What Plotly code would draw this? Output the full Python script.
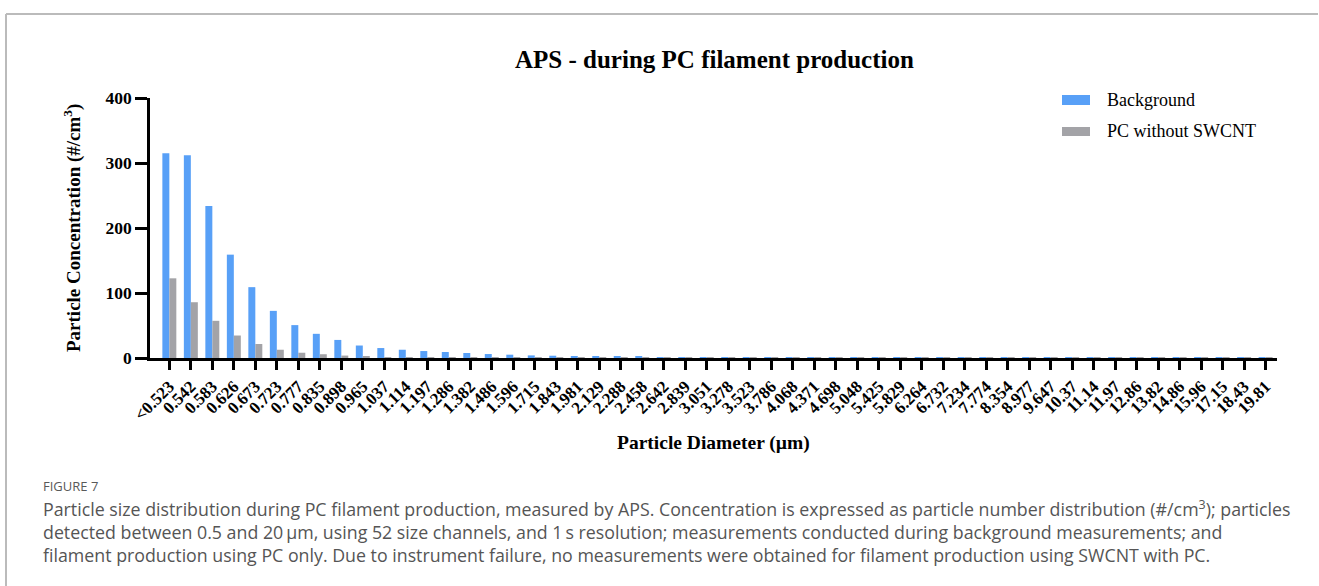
import plotly.graph_objects as go

W, H = 1319, 586

diameters = ["<0.523", "0.542", "0.583", "0.626", "0.673", "0.723", "0.777", "0.835", "0.898", "0.965",
             "1.037", "1.114", "1.197", "1.286", "1.382", "1.486", "1.596", "1.715", "1.843", "1.981",
             "2.129", "2.288", "2.458", "2.642", "2.839", "3.051", "3.278", "3.523", "3.786", "4.068",
             "4.371", "4.698", "5.048", "5.425", "5.829", "6.264", "6.732", "7.234", "7.774", "8.354",
             "8.977", "9.647", "10.37", "11.14", "11.97", "12.86", "13.82", "14.86", "15.96", "17.15",
             "18.43", "19.81"]

background = [315, 312, 234, 159, 109, 72.5, 50.6, 37.2, 27.8, 19.2,
              15.3, 12.7, 10.7, 9.2, 7.7, 6.1, 5.1, 4.0, 3.5, 3.0,
              2.5, 2.0, 1.8, 1.2, 0.9, 0.7, 0.5, 0.4, 0.3, 0.25,
              0.2, 0.15, 0.12, 0.1, 0.1, 0.08, 0.08, 0.06, 0.06, 0.05,
              0.05, 0.05, 0.04, 0.04, 0.04, 0.03, 0.03, 0.03, 0.02, 0.02,
              0.02, 0.02]

pc_without_swcnt = [122.6, 85.8, 57.2, 34.6, 21.5, 12.7, 8.1, 5.8, 3.7, 3.0,
                    1.0, 0.6, 0.4, 0.3, 0.2, 0.15, 0.1, 0.08, 0.06, 0.05,
                    0.04, 0.03, 0.03, 0.02, 0.02, 0.02, 0.01, 0.01, 0.01, 0.01,
                    0.01, 0.01, 0.01, 0.01, 0.01, 0.01, 0.01, 0.01, 0.01, 0.01,
                    0.01, 0.01, 0.01, 0.01, 0.01, 0.01, 0.01, 0.01, 0.01, 0.01,
                    0.01, 0.01]

y_ticks = [0, 100, 200, 300, 400]

BLUE = "#58a0f7"
GRAY = "#a3a3a7"
SERIF = "Liberation Serif"


def px(x):
    return x / W


def py(y):
    return 1 - y / H


fig = go.Figure()
fig.add_trace(go.Bar(x=diameters, y=background, name="Background",
                     marker=dict(color=BLUE, line=dict(width=0))))
fig.add_trace(go.Bar(x=diameters, y=pc_without_swcnt, name="PC without SWCNT",
                     marker=dict(color=GRAY, line=dict(width=0))))

x0, x1 = 150, 1277
y0, y1 = 358, 98

fig.update_layout(
    width=W, height=H,
    margin=dict(l=0, r=0, t=0, b=0),
    paper_bgcolor="white", plot_bgcolor="white",
    barmode="group", bargap=0.35, bargroupgap=0,
    showlegend=False,
    xaxis=dict(type="category", categoryorder="array", categoryarray=diameters,
               range=[-0.9, len(diameters) - 0.47],
               domain=[px(x0), px(x1)], anchor="y",
               showline=True, linecolor="black", linewidth=2.5,
               ticks="outside", ticklen=9, tickwidth=2.5, tickcolor="black",
               tickangle=-45, automargin=False,
               tickfont=dict(family=SERIF, size=17, color="black", weight="bold"),
               showgrid=False, zeroline=False),
    yaxis=dict(range=[0, 400], domain=[py(y0), py(y1)], anchor="x",
               tickvals=y_ticks, ticktext=[str(v) for v in y_ticks],
               showline=True, linecolor="black", linewidth=2.5,
               ticks="outside", ticklen=12, tickwidth=2.5, tickcolor="black",
               automargin=False,
               tickfont=dict(family=SERIF, size=17.5, color="black", weight="bold"),
               showgrid=False, zeroline=False),
)

shapes = [
    dict(type="line", xref="paper", yref="paper", x0=px(6), x1=px(1318), y0=py(14), y1=py(14),
         line=dict(color="#bbbbbb", width=2)),
    dict(type="line", xref="paper", yref="paper", x0=px(6), x1=px(6), y0=py(14), y1=py(586),
         line=dict(color="#bbbbbb", width=2)),
    dict(type="rect", xref="paper", yref="paper", x0=px(1062), x1=px(1090), y0=py(105), y1=py(95),
         fillcolor=BLUE, line=dict(width=0)),
    dict(type="rect", xref="paper", yref="paper", x0=px(1062), x1=px(1090), y0=py(136), y1=py(127),
         fillcolor=GRAY, line=dict(width=0)),
]
fig.update_layout(shapes=shapes)

ann = []
ann.append(dict(text="APS - during PC filament production", x=px(714), y=py(59),
                xanchor="center", yanchor="middle",
                font=dict(family=SERIF, size=25, color="black", weight="bold")))
ann.append(dict(text="Particle Diameter (µm)", x=px(713), y=py(443),
                xanchor="center", yanchor="middle",
                font=dict(family=SERIF, size=19.5, color="black", weight="bold")))
ann.append(dict(text="Particle Concentration (#/cm<sup>3</sup>)", x=px(72), y=py(228),
                xanchor="center", yanchor="middle", textangle=-90,
                font=dict(family=SERIF, size=19, color="black", weight="bold")))
ann.append(dict(text="Background", x=px(1105), y=py(100), xanchor="left", yanchor="middle",
                font=dict(family=SERIF, size=18, color="black")))
ann.append(dict(text="PC without SWCNT", x=px(1105), y=py(131), xanchor="left", yanchor="middle",
                font=dict(family=SERIF, size=18, color="black")))

CAP_FONT = "Open Sans"
ann.append(dict(text="FIGURE 7", x=px(41), y=py(486), xanchor="left", yanchor="middle",
                font=dict(family=CAP_FONT, size=13, color="#595959")))
caption_lines = [
    "Particle size distribution during PC filament production, measured by APS. Concentration is expressed as particle number distribution (#/cm<sup>3</sup>); particles",
    "detected between 0.5 and 20\u2009µm, using 52 size channels, and 1\u2009s resolution; measurements conducted during background measurements; and",
    "filament production using PC only. Due to instrument failure, no measurements were obtained for filament production using SWCNT with PC.",
]
for i, line in enumerate(caption_lines):
    ann.append(dict(text=line, x=px(41), y=py(508 + 23.5 * i), xanchor="left", yanchor="middle",
                    font=dict(family=CAP_FONT, size=17.8, color="#555555")))

for a in ann:
    a.update(xref="paper", yref="paper", showarrow=False)
fig.update_layout(annotations=ann)

fig.write_html("out.html")
